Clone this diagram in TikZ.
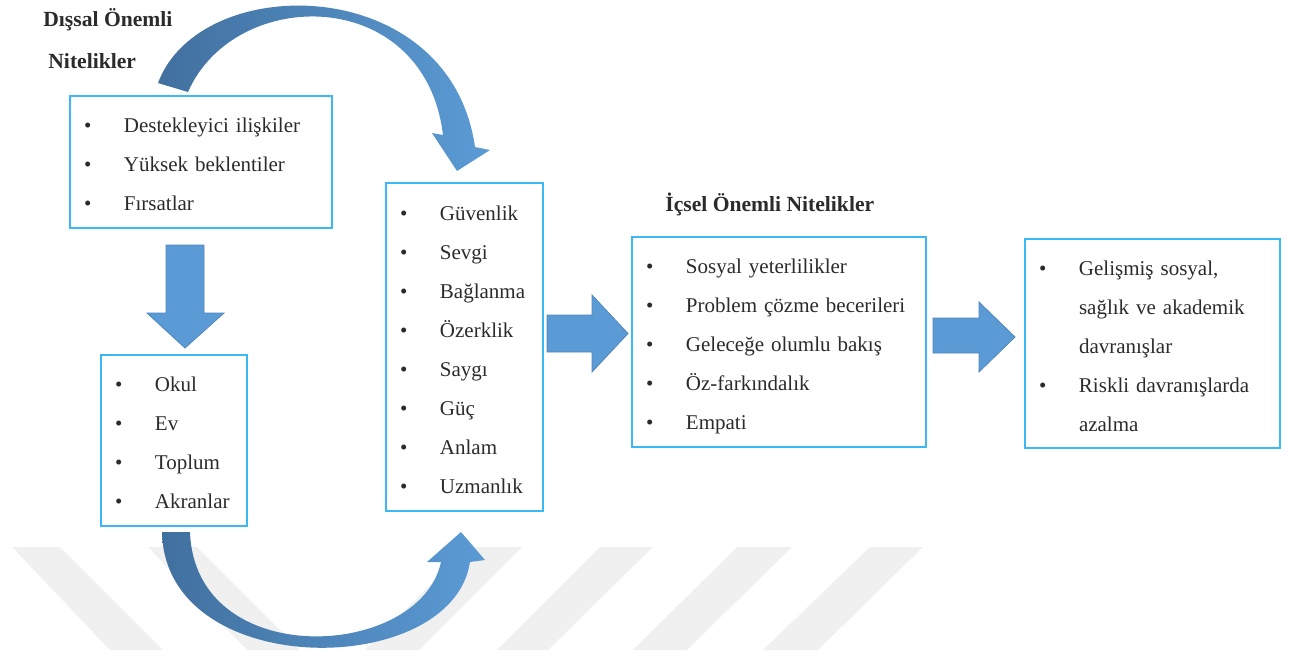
\documentclass[tikz,border=0pt]{standalone}
\usepackage{fontspec}
\setmainfont{Liberation Serif}
\usepackage{xcolor}
\usetikzlibrary{positioning}
\definecolor{boxline}{HTML}{3CB9F2}
\definecolor{arrowblue}{HTML}{5B9BD5}
\definecolor{arrowedge}{HTML}{4F86BD}
\definecolor{curvedark}{HTML}{41709F}
\definecolor{txtgray}{HTML}{2B2B2B}
% bullet item and its continuation line, both with the same strut
\newcommand{\itm}[1]{\rule[-3pt]{0pt}{15.5pt}\makebox[20pt][l]{\textbullet}#1}
\newcommand{\cnt}[1]{\rule[-3pt]{0pt}{15.5pt}\hspace*{20pt}#1}
\tikzset{
  listbox/.style={draw=boxline,line width=1pt,fill=white,align=left,inner xsep=7pt,inner ysep=0pt,text=txtgray,
    font={\fontsize{10.5}{19.5}\selectfont}},
  heading/.style={anchor=west,align=left,inner sep=0pt,text=txtgray,font={\bfseries\fontsize{10.8}{21}\selectfont}},
  blockarrow/.style={fill=arrowblue,draw=arrowedge,line width=0.4pt},
  curvearrow/.style={left color=curvedark,right color=arrowblue},
  wmband/.style={fill=black!6}
}

\begin{document}
\begin{tikzpicture}[x=0.5pt,y=-0.5pt]
  \useasboundingbox (0,0) rectangle (1292,650);

  % faint watermark bands at the bottom
  \fill[wmband] (12,547) -- (60,547) -- (163,650) -- (110,650) -- cycle;
  \fill[wmband] (148,547) -- (197,547) -- (300,650) -- (247,650) -- cycle;
  \fill[wmband] (468,547) -- (522,547) -- (419,650) -- (365,650) -- cycle;
  \fill[wmband] (600,547) -- (653,547) -- (548,650) -- (497,650) -- cycle;
  \fill[wmband] (737,547) -- (792,547) -- (687,650) -- (633,650) -- cycle;
  \fill[wmband] (870,547) -- (923,547) -- (818,650) -- (763,650) -- cycle;

  % curved arrows
  \path[curvearrow] (158,83) .. controls (200,-30) and (450,-28) .. (475,147) -- (490,150) -- (457,171)
    -- (432,133) -- (443,135) .. controls (425,-15) and (235,-15) .. (188,92) -- cycle;
  \path[curvearrow] (162,532) .. controls (165,682) and (452,680) .. (470,562) -- (485,560) -- (461,532)
    -- (427,562) -- (441,562) .. controls (420,660) and (195,672) .. (190,532) -- cycle;

  \node (dtitle) [heading] at (43,39) {Dışsal Önemli\\\hspace{2.5pt}Nitelikler};
  \node (ititle) [heading] at (665,204) {İçsel Önemli Nitelikler};

  \node (destek) [listbox,text width=117pt,minimum height=66pt] at (201,162)
    {\itm{Destekleyici ilişkiler}\\\itm{Yüksek beklentiler}\\\itm{Fırsatlar}};
  \node (ortam) [listbox,text width=59pt,minimum height=85.5pt] at (174,440.5)
    {\itm{Okul}\\\itm{Ev}\\\itm{Toplum}\\\itm{Akranlar}};
  \node (ihtiyac) [listbox,text width=64.5pt,minimum height=164pt] at (464.5,347)
    {\itm{Güvenlik}\\\itm{Sevgi}\\\itm{Bağlanma}\\\itm{Özerklik}\\\itm{Saygı}\\\itm{Güç}\\\itm{Anlam}\\\itm{Uzmanlık}};
  \node (icsel) [listbox,text width=133pt,minimum height=105pt] at (779,342)
    {\itm{Sosyal yeterlilikler}\\\itm{Problem çözme becerileri}\\\itm{Geleceğe olumlu bakış}\\\itm{Öz-farkındalık}\\\itm{Empati}};
  \node (sonuc) [listbox,text width=113.5pt,minimum height=104.5pt] at (1152.5,343.5)
    {\itm{Gelişmiş sosyal,}\\\cnt{sağlık ve akademik}\\\cnt{davranışlar}\\\itm{Riskli davranışlarda}\\\cnt{azalma}};

  % block arrows
  \draw[blockarrow] (166,245) -- (204,245) -- (204,313) -- (224,313) -- (185,348) -- (147,313) -- (166,313) -- cycle;
  \draw[blockarrow] (547,315) -- (592,315) -- (592,295) -- (628,333.5) -- (592,372) -- (592,352) -- (547,352) -- cycle;
  \draw[blockarrow] (933,318) -- (979,318) -- (979,302) -- (1015,337) -- (979,372) -- (979,353) -- (933,353) -- cycle;
\end{tikzpicture}
\end{document}
